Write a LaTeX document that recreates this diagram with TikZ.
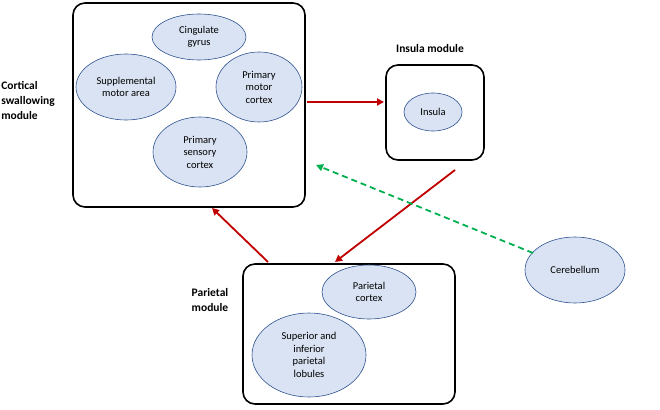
\documentclass[tikz,border=0pt]{standalone}
\usepackage{fontspec}
\setmainfont{Carlito}
\usetikzlibrary{shapes.geometric,arrows.meta}
\definecolor{efill}{RGB}{218,227,243}
\definecolor{edraw}{RGB}{47,82,143}
\definecolor{dred}{RGB}{192,0,0}
\definecolor{dgreen}{RGB}{0,176,80}
\begin{document}
\begin{tikzpicture}[x=1pt,y=-1pt,
 box/.style={draw=black,line width=1.6pt,rounded corners=12pt},
 reg/.style={ellipse,draw=edraw,fill=efill,line width=0.6pt,inner sep=0pt,align=center,font=\fontsize{10.5}{12.5}\selectfont},
 lab/.style={font=\bfseries\fontsize{11.5}{15}\selectfont,align=left},
 red/.style={draw=dred,line width=1.8pt,-{Triangle[length=7pt,width=7pt]}}]
\useasboundingbox (0,0) rectangle (660,409);
\draw[box] (73,3) rectangle (305,207);
\node[box,minimum width=98pt,minimum height=95pt] (ins) at (435,112.5) {};
\draw[box] (243,264) rectangle (455,404);
\node[reg,minimum width=94pt,minimum height=46pt] (cg) at (199,37) {Cingulate\\gyrus};
\node[reg,minimum width=100pt,minimum height=66pt] (sma) at (126,87) {Supplemental\\motor area};
\node[reg,minimum width=86pt,minimum height=70pt] (pmc) at (259,87) {Primary\\motor\\cortex};
\node[reg,minimum width=94pt,minimum height=70pt] (psc) at (200,152) {Primary\\sensory\\cortex};
\node[lab] (cl) at (28,100) {Cortical\\swallowing\\module};
\node[lab] (il) at (430,49) {Insula module};
\node[reg,minimum width=58pt,minimum height=38pt] (insula) at (433,112) {Insula};
\node[lab] (pl) at (210,300) {Parietal\\module};
\node[reg,minimum width=94pt,minimum height=54pt] (pc) at (369,292) {Parietal\\cortex};
\node[reg,minimum width=114pt,minimum height=84pt] (sip) at (309,355) {Superior and\\inferior\\parietal\\lobules};
\node[reg,minimum width=100pt,minimum height=66pt] (cb) at (575,270) {Cerebellum};
\coordinate (a1s) at (307,102); \coordinate (a1e) at (384,102);
\coordinate (a2s) at (455,170); \coordinate (a2e) at (335,262);
\coordinate (a3s) at (268,262); \coordinate (a3e) at (212,208);
\coordinate (gs) at (533,253); \coordinate (ge) at (316,165);
\draw[red] (a1s) -- (a1e);
\draw[red] (a2s) -- (a2e);
\draw[red] (a3s) -- (a3e);
\draw[draw=dgreen,line width=1.8pt,dash pattern=on 6pt off 4pt,-{Triangle[length=7pt,width=7pt]}] (gs) -- (ge);
\end{tikzpicture}
\end{document}
